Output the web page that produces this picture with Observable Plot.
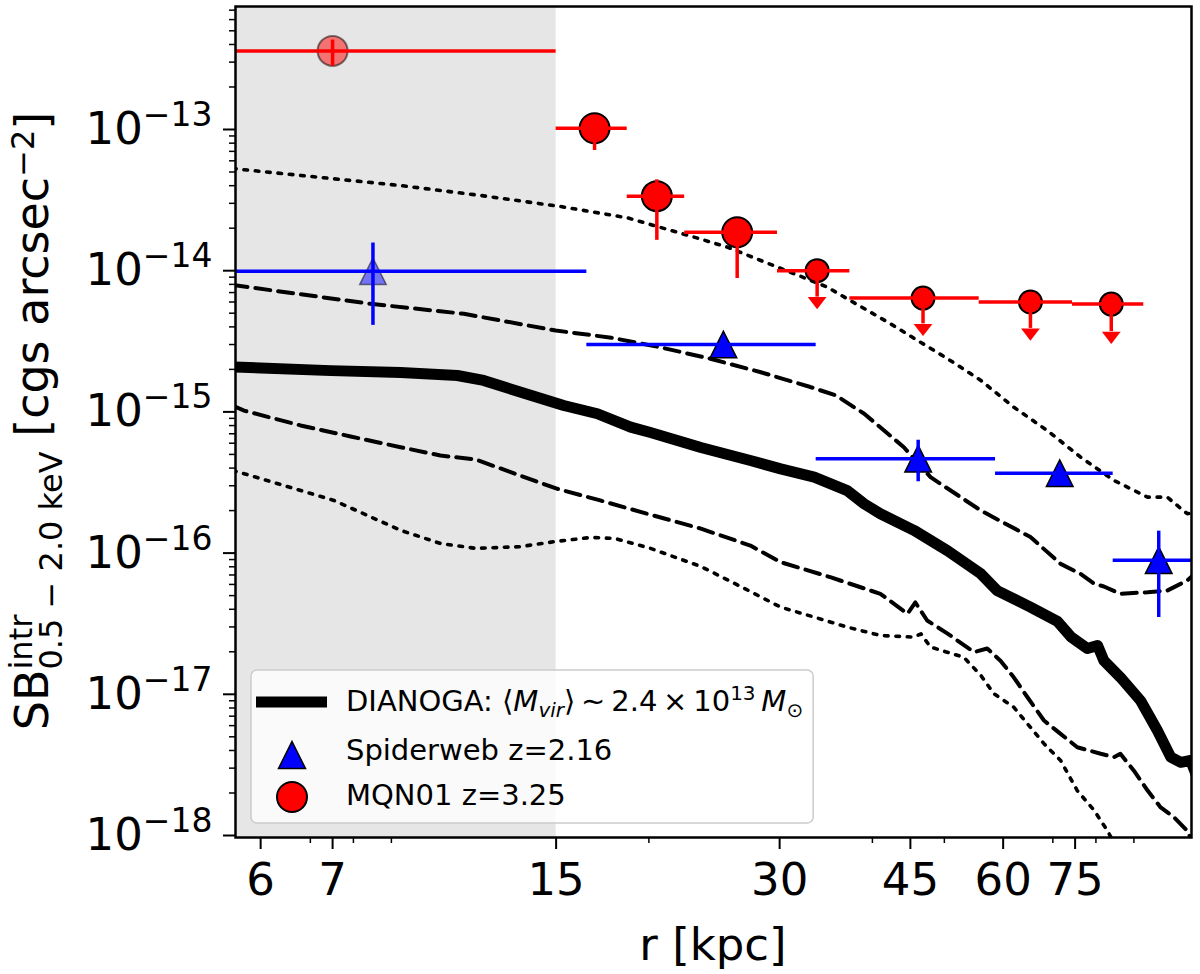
<!DOCTYPE html>
<html>
<head>
<meta charset="utf-8">
<script src="https://cdn.jsdelivr.net/npm/d3@7"></script>
<script src="https://cdn.jsdelivr.net/npm/@observablehq/plot@0.6"></script>
<style>
  body { margin: 0; background: #fff; }
  svg { font-family: "DejaVu Sans", sans-serif; }
</style>
</head>
<body>
<div id="chart"></div>
<script>
// Intrinsic 0.5-2.0 keV surface-brightness profiles: DIANOGA simulated
// protoclusters vs. the Spiderweb and MQN01 measurements.

// Axis ranges and ticks
const xDomain = [5.55, 107.6];
const yDomain = [9.68e-19, 7.43e-13];
const xMajorTicks = [6, 7.5, 15, 30, 45, 60, 75];
const xTickLabels = ["6", "7", "15", "30", "45", "60", "75"];
const xMinorTicks = [7, 8, 9, 20, 40, 50, 70, 80, 90];
const yMajorTicks = [1e-18, 1e-17, 1e-16, 1e-15, 1e-14, 1e-13];
const yTickLabels = ["10^−18", "10^−17", "10^−16", "10^−15", "10^−14", "10^−13"];
const yMinorTicks = [];
for (let e = -18; e <= -13; e++) for (let m = 2; m <= 9; m++) {
  const v = m * Math.pow(10, e);
  if (v < yDomain[1]) yMinorTicks.push(v);
}

// Inner region excluded from the comparison (shaded)
const innerRegion = [5, 15];

// DIANOGA median profile (thick solid)
const medianR = [5.50, 7.46, 9.26, 11.04, 11.98, 13.86, 15.36, 17.05, 18.9, 20.1, 23.5, 27.4, 30.1, 33.4, 37.0, 39.0, 41.0, 45.5, 50.5, 56.0, 58.9, 65.3, 71.0, 74.0, 77.9, 80.4, 82.0, 86.3, 91.9, 96.8, 100.9, 104.1, 107.3, 109.3];
const medianSB = [2.08e-15, 1.96e-15, 1.90e-15, 1.81e-15, 1.67e-15, 1.31e-15, 1.11e-15, 9.7e-16, 7.8e-16, 7.14e-16, 5.6e-16, 4.53e-16, 3.95e-16, 3.45e-16, 2.77e-16, 2.23e-16, 1.90e-16, 1.45e-16, 1.04e-16, 7.13e-17, 5.43e-17, 4.14e-17, 3.28e-17, 2.56e-17, 2.11e-17, 2.22e-17, 1.73e-17, 1.32e-17, 9.0e-18, 5.54e-18, 3.59e-18, 3.3e-18, 3.4e-18, 2.66e-18];

// Inner envelope (dashed)
const dashHiR = [5.50, 8.43, 11.27, 14.98, 17.8, 20.7, 24.2, 28.3, 33.0, 35.7, 39.0, 44.1, 47.9, 56.0, 65.3, 71.7, 76.3, 79.6, 82.0, 86.3, 93.9, 99.8, 106.2, 109.3];
const dashHiSB = [7.92e-15, 5.83e-15, 4.95e-15, 3.77e-15, 3.35e-15, 2.87e-15, 2.38e-15, 1.91e-15, 1.50e-15, 1.31e-15, 9.7e-16, 5.62e-16, 3.45e-16, 2.0e-16, 1.30e-16, 8.39e-17, 7.13e-17, 6.06e-17, 5.8e-17, 5.15e-17, 5.28e-17, 5.43e-17, 6.4e-17, 7.3e-17];
const dashLoR = [5.50, 5.70, 6.79, 7.93, 9.26, 10.48, 11.69, 13.4, 15.0, 17.2, 20.1, 23.5, 27.4, 30.1, 35.1, 41.0, 44.6, 45.7, 47.4, 50.5, 54.8, 57.1, 59.5, 62.0, 64.7, 68.1, 71.7, 75.5, 81.2, 84.6, 86.3, 90.0, 93.9, 97.8, 101.9, 106.2, 107.9];
const dashLoSB = [1.11e-15, 1.02e-15, 8.02e-16, 6.7e-16, 5.62e-16, 4.91e-16, 4.6e-16, 3.55e-16, 2.87e-16, 2.36e-16, 1.87e-16, 1.49e-16, 1.13e-16, 8.63e-17, 6.75e-17, 5.15e-17, 3.72e-17, 4.47e-17, 3.33e-17, 2.69e-17, 1.99e-17, 2.11e-17, 1.73e-17, 1.32e-17, 9.53e-18, 6.52e-18, 5.25e-18, 4.22e-18, 3.79e-18, 3.59e-18, 3.79e-18, 2.88e-18, 2.08e-18, 1.58e-18, 1.35e-18, 1.08e-18, 8.9e-19];

// Outer envelope (dotted)
const dotHiR = [5.50, 5.70, 9.26, 11.87, 15.2, 18.7, 20.7, 23.0, 25.5, 28.3, 31.4, 34.8, 37.0, 39.4, 42.3, 46.0, 50.5, 56.0, 62.0, 68.8, 76.3, 84.6, 93.9, 99.8, 106.2, 109.3];
const dotHiSB = [5.30e-14, 5.19e-14, 4.01e-14, 3.41e-14, 2.85e-14, 2.37e-14, 2.03e-14, 1.73e-14, 1.47e-14, 1.18e-14, 9.51e-15, 7.64e-15, 6.32e-15, 5.23e-15, 4.21e-15, 3.21e-15, 2.38e-15, 1.67e-15, 1.08e-15, 7.38e-16, 4.78e-16, 3.27e-16, 2.49e-16, 2.49e-16, 1.90e-16, 1.94e-16];
const dotLoR = [5.50, 5.70, 7.53, 9.26, 10.48, 11.69, 13.4, 15.0, 16.7, 18.0, 20.1, 23.5, 26.6, 30.1, 33.4, 37.0, 41.0, 45.5, 46.5, 47.9, 53.1, 56.0, 58.3, 62.0, 64.7, 68.1, 71.7, 75.5, 79.6, 82.9, 85.0];
const dotLoSB = [3.85e-16, 3.65e-16, 2.36e-16, 1.45e-16, 1.17e-16, 1.08e-16, 1.11e-16, 1.21e-16, 1.29e-16, 1.27e-16, 1.08e-16, 8.04e-17, 5.79e-17, 4.14e-17, 3.52e-17, 2.99e-17, 2.61e-17, 2.54e-17, 2.68e-17, 2.16e-17, 1.83e-17, 1.36e-17, 1.01e-17, 8.11e-18, 6.18e-18, 4.47e-18, 3.4e-18, 2.08e-18, 1.5e-18, 1.08e-18, 8.5e-19];

// Spiderweb z=2.16 (triangles)
const spR = [8.5, 25.2, 46.1, 71.5, 97.2];
const spRlo = [5, 16.5, 33.6, 58.6, 84.4];
const spRhi = [16.5, 33.6, 58.6, 84.4, 115];
const spSB = [9.9e-15, 3.0e-15, 4.66e-16, 3.68e-16, 8.9e-17];
const spSBlo = [4.1e-15, 2.7e-15, 3.2e-16, 3.3e-16, 3.5e-17];
const spSBhi = [1.57e-14, 3.3e-15, 6.3e-16, 4.1e-16, 1.43e-16];

// MQN01 z=3.25 detections (circles)
const mqR = [7.5, 16.9, 20.5, 26.3];
const mqRlo = [5, 15, 18.7, 22.35];
const mqRhi = [15, 18.7, 22.35, 29.8];
const mqSB = [3.6e-13, 1.02e-13, 3.37e-14, 1.87e-14];
const mqSBlo = [2.8e-13, 7.1e-14, 1.64e-14, 8.8e-15];
const mqSBhi = [4.3e-13, 1.2e-13, 4.4e-14, 2.3e-14];

// MQN01 upper limits
const ulR = [33.7, 46.8, 65.3, 83.9];
const ulRlo = [29.8, 37.3, 55.7, 74.4];
const ulRhi = [37.3, 55.7, 74.4, 92.8];
const ulSB = [1.0e-14, 6.4e-15, 6.0e-15, 5.8e-15];
const ulArrow = [6.5e-15, 4.2e-15, 3.9e-15, 3.7e-15];

// ---- tables built from the arrays above
const curve = (rs, sbs) => rs.map((r, i) => ({r, sb: sbs[i]}));
const inner = (r) => r < innerRegion[1];
const sp = spR.map((r, i) => ({r, rlo: spRlo[i], rhi: spRhi[i], sb: spSB[i], sblo: spSBlo[i], sbhi: spSBhi[i], faded: inner(r)}));
const mq = mqR.map((r, i) => ({r, rlo: mqRlo[i], rhi: mqRhi[i], sb: mqSB[i], sblo: mqSBlo[i], sbhi: mqSBhi[i], faded: inner(r)}));
const ul = ulR.map((r, i) => ({r, rlo: ulRlo[i], rhi: ulRhi[i], sb: ulSB[i], arrow: ulArrow[i]}));
const xTicks = xMajorTicks.map((v, i) => ({v, label: xTickLabels[i]}));

// marker shapes
const triUp = {draw(ctx, size) { const s = Math.sqrt(size / Math.PI); ctx.moveTo(0, -s); ctx.lineTo(s, s); ctx.lineTo(-s, s); ctx.closePath(); }};
const caretDown = {draw(ctx, size) { const s = Math.sqrt(size / Math.PI); ctx.moveTo(-s, 0); ctx.lineTo(s, 0); ctx.lineTo(0, 1.3 * s); ctx.closePath(); }};

const dotted = {stroke: "black", strokeWidth: 3.6, strokeDasharray: "3.6,7.8", clip: true};
const dashed = {stroke: "black", strokeWidth: 4, strokeDasharray: "15,8", clip: true};
const barW = 3.5;

const chart = Plot.plot({
  width: 1200,
  height: 974,
  marginTop: 6,
  marginBottom: 137,
  marginLeft: 235,
  marginRight: 9,
  style: {fontFamily: "DejaVu Sans", fontSize: "45px", color: "black", background: "white"},
  x: {type: "log", domain: xDomain},
  y: {type: "log", domain: yDomain},
  marks: [
    Plot.rect([innerRegion], {x1: (d) => d[0], x2: (d) => d[1], y1: () => yDomain[0], y2: () => yDomain[1], fill: "#e6e6e6", clip: true}),

    Plot.line(curve(dotHiR, dotHiSB), {x: "r", y: "sb", ...dotted}),
    Plot.line(curve(dotLoR, dotLoSB), {x: "r", y: "sb", ...dotted}),
    Plot.line(curve(dashHiR, dashHiSB), {x: "r", y: "sb", ...dashed}),
    Plot.line(curve(dashLoR, dashLoSB), {x: "r", y: "sb", ...dashed}),
    Plot.line(curve(medianR, medianSB), {x: "r", y: "sb", stroke: "black", strokeWidth: 11, strokeLinejoin: "round", clip: true}),

    // Spiderweb
    Plot.dot(sp, {x: "r", y: "sb", symbol: triUp, r: 13.3, fill: "#0000ff", stroke: "black", strokeWidth: 1.5,
      fillOpacity: (d) => d.faded ? 0.5 : 1, strokeOpacity: (d) => d.faded ? 0.5 : 1}),
    Plot.ruleY(sp, {y: "sb", x1: "rlo", x2: "rhi", stroke: "#0000ff", strokeWidth: barW, clip: true}),
    Plot.ruleX(sp, {x: "r", y1: "sblo", y2: "sbhi", stroke: "#0000ff", strokeWidth: barW, clip: true}),

    // MQN01 detections
    Plot.dot(mq, {x: "r", y: "sb", r: 15, fill: "#ff0000", stroke: "black", strokeWidth: 2,
      fillOpacity: (d) => d.faded ? 0.5 : 1, strokeOpacity: (d) => d.faded ? 0.5 : 1}),
    Plot.ruleY(mq, {y: "sb", x1: "rlo", x2: "rhi", stroke: "#ff0000", strokeWidth: barW, clip: true}),
    Plot.ruleX(mq, {x: "r", y1: "sblo", y2: "sbhi", stroke: "#ff0000", strokeWidth: barW, clip: true}),

    // MQN01 upper limits
    Plot.dot(ul, {x: "r", y: "sb", r: 11.5, fill: "#ff0000", stroke: "black", strokeWidth: 2}),
    Plot.ruleY(ul, {y: "sb", x1: "rlo", x2: "rhi", stroke: "#ff0000", strokeWidth: barW, clip: true}),
    Plot.ruleX(ul, {x: "r", y1: "arrow", y2: "sb", stroke: "#ff0000", strokeWidth: barW}),
    Plot.dot(ul, {x: "r", y: "arrow", symbol: caretDown, r: 9.4, fill: "#ff0000", stroke: "none"}),

    // axes
    Plot.axisX({ticks: xMinorTicks, tickSize: 6, tickFormat: () => "", label: null, strokeWidth: 1.5}),
    Plot.axisX({ticks: xMajorTicks, tickSize: 12, tickFormat: () => "", label: null, strokeWidth: 2}),
    Plot.text(xTicks, {x: "v", text: "label", frameAnchor: "bottom", lineAnchor: "top", dy: 26, fontSize: 45}),
    Plot.axisY({ticks: yMinorTicks, tickSize: 6, tickFormat: () => "", label: null, strokeWidth: 1.5}),
    Plot.axisY({ticks: yMajorTicks, tickSize: 12, tickPadding: 11, strokeWidth: 2, label: null,
      tickFormat: (d) => yTickLabels[yMajorTicks.indexOf(d)]}),
    Plot.frame({stroke: "black", strokeWidth: 2.5})
  ]
});

document.getElementById("chart").append(chart);
const svg = d3.select(chart);

// powers of ten with raised exponents
svg.selectAll('g[aria-label="y-axis tick label"] text').each(function () {
  const label = this.textContent;
  if (!label.includes("^")) return;
  const [base, exp] = label.split("^");
  const t = d3.select(this).text(null);
  t.append("tspan").text(base);
  t.append("tspan").attr("font-size", 33).attr("dy", -18).text(exp);
});

// x-axis title
svg.append("text")
  .attr("x", 713).attr("y", 960)
  .attr("text-anchor", "middle")
  .attr("font-size", 45)
  .text("r [kpc]");

// y-axis title
const yt = svg.append("text")
  .attr("font-size", 46)
  .attr("text-anchor", "start")
  .attr("transform", "translate(48,421) rotate(-90)");
yt.append("tspan").text("SB");
const sup = yt.append("tspan").attr("font-size", 32).attr("dy", -16).text("intr");
const supW = sup.node().getComputedTextLength();
yt.append("tspan").attr("font-size", 32).attr("dx", -supW).attr("dy", 30).text("0.5 − 2.0 keV");
yt.append("tspan").attr("dy", -14).text(" [cgs arcsec");
yt.append("tspan").attr("font-size", 32).attr("dy", -14).text("−2");
yt.append("tspan").attr("dy", 14).text("]");
const ytLen = yt.node().getBBox().width;
yt.attr("x", -ytLen / 2);

// legend
const lg = svg.append("g").attr("font-size", 29).attr("text-anchor", "start");
const box = lg.append("rect")
  .attr("x", 251).attr("y", 670).attr("height", 153).attr("rx", 6)
  .attr("fill", "white").attr("fill-opacity", 0.8)
  .attr("stroke", "#cccccc").attr("stroke-width", 1.5);
lg.append("line").attr("x1", 256).attr("x2", 327).attr("y1", 702).attr("y2", 702)
  .attr("stroke", "black").attr("stroke-width", 11);
lg.append("path").attr("d", d3.symbol(triUp, Math.PI * 13.5 * 13.5)())
  .attr("transform", "translate(292,755)")
  .attr("fill", "#0000ff").attr("stroke", "black").attr("stroke-width", 1.5);
lg.append("circle").attr("cx", 292).attr("cy", 797).attr("r", 15)
  .attr("fill", "#ff0000").attr("stroke", "black").attr("stroke-width", 2);

const t1 = lg.append("text").attr("x", 346).attr("y", 711);
t1.append("tspan").text("DIANOGA: ⟨");
t1.append("tspan").attr("font-style", "italic").text("M");
t1.append("tspan").attr("font-style", "italic").attr("font-size", 20).attr("dy", 6).text("vir");
t1.append("tspan").attr("dy", -6).text("⟩\u2009∼\u20092.4\u2009×\u200910");
t1.append("tspan").attr("font-size", 20).attr("dy", -11).text("13");
t1.append("tspan").attr("dy", 11).attr("font-style", "italic").text("\u2009M");
t1.append("tspan").attr("font-size", 20).attr("dy", 6).text("⊙");
lg.append("text").attr("x", 346).attr("y", 760).text("Spiderweb z=2.16");
lg.append("text").attr("x", 346).attr("y", 805).text("MQN01 z=3.25");

const textEnd = 346 + t1.node().getComputedTextLength();
box.attr("width", textEnd + 10 - 251);
</script>
</body>
</html>
